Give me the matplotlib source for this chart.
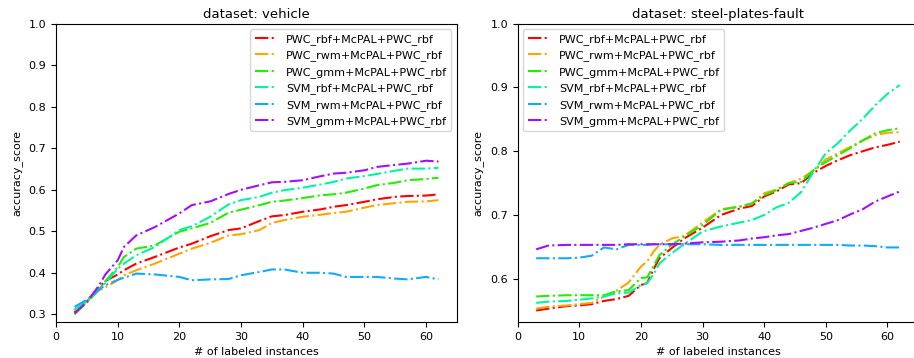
import matplotlib
matplotlib.use("Agg")
import matplotlib.pyplot as plt

# Légendes / couleurs des six combinaisons
labels = ["PWC_rbf+McPAL+PWC_rbf", "PWC_rwm+McPAL+PWC_rbf", "PWC_gmm+McPAL+PWC_rbf",
          "SVM_rbf+McPAL+PWC_rbf", "SVM_rwm+McPAL+PWC_rbf", "SVM_gmm+McPAL+PWC_rbf"]
colors = ["#ff0000", "#ffa500", "#22ee00", "#00f5a0", "#10aaff", "#a010ff"]

# --- dataset: vehicle ---
x_vehicle = [3, 5, 7, 8, 10, 11, 13, 16, 20, 22, 25, 28, 30, 33, 35, 37, 40, 43, 45, 47, 50, 52, 55, 57, 60, 62]
vehicle_pwc_rbf = [0.305, 0.330, 0.365, 0.380, 0.396, 0.406, 0.422, 0.438, 0.461, 0.470, 0.488, 0.503, 0.507, 0.525,
                   0.536, 0.539, 0.547, 0.553, 0.559, 0.563, 0.571, 0.577, 0.583, 0.585, 0.586, 0.589]
vehicle_pwc_rwm = [0.310, 0.330, 0.358, 0.365, 0.382, 0.394, 0.406, 0.422, 0.446, 0.458, 0.472, 0.490, 0.493, 0.503,
                   0.520, 0.527, 0.535, 0.540, 0.544, 0.547, 0.557, 0.563, 0.568, 0.571, 0.572, 0.575]
vehicle_pwc_gmm = [0.300, 0.328, 0.360, 0.380, 0.414, 0.438, 0.458, 0.466, 0.499, 0.507, 0.520, 0.545, 0.552, 0.563,
                   0.571, 0.574, 0.580, 0.587, 0.589, 0.593, 0.603, 0.611, 0.617, 0.623, 0.626, 0.629]
vehicle_svm_rbf = [0.312, 0.332, 0.362, 0.375, 0.410, 0.422, 0.442, 0.462, 0.503, 0.512, 0.535, 0.565, 0.575, 0.583,
                   0.593, 0.599, 0.605, 0.613, 0.619, 0.627, 0.633, 0.638, 0.646, 0.651, 0.651, 0.653]
vehicle_svm_rwm = [0.318, 0.335, 0.360, 0.370, 0.383, 0.388, 0.398, 0.396, 0.390, 0.382, 0.384, 0.385, 0.394, 0.402,
                   0.408, 0.408, 0.400, 0.400, 0.398, 0.390, 0.390, 0.390, 0.386, 0.384, 0.390, 0.384]
vehicle_svm_gmm = [0.302, 0.330, 0.370, 0.396, 0.430, 0.462, 0.490, 0.510, 0.543, 0.563, 0.572, 0.590, 0.600, 0.611,
                   0.618, 0.619, 0.623, 0.633, 0.639, 0.641, 0.647, 0.655, 0.660, 0.663, 0.670, 0.668]

# --- dataset: steel-plates-fault ---
x_steel = [3, 5, 8, 10, 12, 14, 16, 18, 20, 21, 22, 23, 25, 27, 30, 33, 36, 38, 40, 42, 44, 46, 48, 50, 52, 54,
           56, 58, 60, 62]
steel_pwc_rbf = [0.550, 0.553, 0.557, 0.558, 0.560, 0.565, 0.568, 0.573, 0.590, 0.593, 0.614, 0.632, 0.648, 0.663,
                 0.680, 0.700, 0.710, 0.714, 0.729, 0.737, 0.748, 0.750, 0.766, 0.777, 0.786, 0.794, 0.800, 0.806,
                 0.810, 0.815]
steel_pwc_rwm = [0.553, 0.556, 0.558, 0.560, 0.562, 0.572, 0.581, 0.594, 0.619, 0.627, 0.642, 0.653, 0.663, 0.667,
                 0.688, 0.709, 0.713, 0.718, 0.734, 0.740, 0.750, 0.757, 0.770, 0.787, 0.797, 0.807, 0.817, 0.825,
                 0.829, 0.830]
steel_pwc_gmm = [0.572, 0.573, 0.574, 0.574, 0.574, 0.574, 0.580, 0.582, 0.601, 0.602, 0.619, 0.637, 0.653, 0.666,
                 0.684, 0.708, 0.713, 0.718, 0.731, 0.739, 0.750, 0.752, 0.770, 0.783, 0.794, 0.805, 0.817, 0.828,
                 0.833, 0.836]
steel_svm_rbf = [0.562, 0.564, 0.565, 0.567, 0.569, 0.572, 0.577, 0.578, 0.590, 0.593, 0.606, 0.624, 0.640, 0.654,
                 0.674, 0.682, 0.688, 0.692, 0.700, 0.712, 0.719, 0.736, 0.768, 0.797, 0.813, 0.833, 0.851, 0.872,
                 0.890, 0.904]
steel_svm_rwm = [0.632, 0.632, 0.632, 0.633, 0.636, 0.649, 0.646, 0.653, 0.653, 0.653, 0.654, 0.654, 0.654, 0.654,
                 0.654, 0.653, 0.653, 0.653, 0.653, 0.653, 0.653, 0.653, 0.653, 0.653, 0.653, 0.652, 0.652, 0.651,
                 0.649, 0.649]
steel_svm_gmm = [0.646, 0.652, 0.653, 0.653, 0.653, 0.653, 0.653, 0.654, 0.654, 0.654, 0.654, 0.654, 0.654, 0.655,
                 0.657, 0.658, 0.660, 0.663, 0.665, 0.668, 0.670, 0.675, 0.680, 0.686, 0.692, 0.701, 0.709, 0.721,
                 0.729, 0.737]

plt.rcParams['font.size'] = 8

fig = plt.figure(figsize=(9.14, 3.58), dpi=100)
ax1 = fig.add_axes([0.0613, 0.1006, 0.4387, 0.833])
ax2 = fig.add_axes([0.5664, 0.1006, 0.4383, 0.833])

vehicle = [vehicle_pwc_rbf, vehicle_pwc_rwm, vehicle_pwc_gmm, vehicle_svm_rbf, vehicle_svm_rwm, vehicle_svm_gmm]
steel = [steel_pwc_rbf, steel_pwc_rwm, steel_pwc_gmm, steel_svm_rbf, steel_svm_rwm, steel_svm_gmm]

for ys, lab, c in zip(vehicle, labels, colors):
    ax1.plot(x_vehicle, ys, linestyle='-.', color=c, label=lab, linewidth=1.5)
for ys, lab, c in zip(steel, labels, colors):
    ax2.plot(x_steel, ys, linestyle='-.', color=c, label=lab, linewidth=1.5)

ax1.set_xlim(0, 65)
ax1.set_ylim(0.2814, 1.0)
ax1.set_title("dataset: vehicle", fontsize=9.5, pad=4)
ax1.set_xlabel("# of labeled instances")
ax1.set_ylabel("accuracy_score")
ax1.legend(loc='upper right')

ax2.set_xlim(0, 65)
ax2.set_ylim(0.532, 1.0)
ax2.set_title("dataset: steel-plates-fault", fontsize=9.5, pad=4)
ax2.set_xlabel("# of labeled instances")
ax2.set_ylabel("accuracy_score")
ax2.legend(loc='upper left')

fig.savefig("out.png", dpi=100)
